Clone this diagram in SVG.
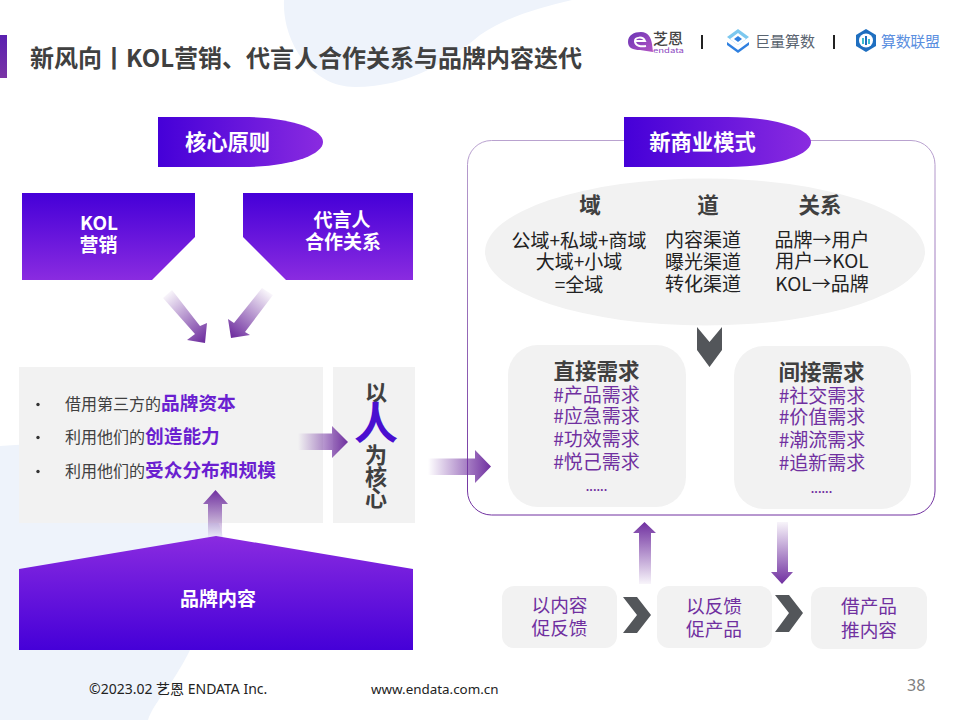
<svg xmlns="http://www.w3.org/2000/svg" width="960" height="720" viewBox="0 0 960 720">
<defs>
<linearGradient id="gH" x1="0" y1="0" x2="1" y2="0"><stop offset="0" stop-color="#4500d8"/><stop offset="1" stop-color="#8a2be0"/></linearGradient>
<linearGradient id="gV" x1="0" y1="0" x2="0" y2="1"><stop offset="0" stop-color="#4500d8"/><stop offset="1" stop-color="#8a2be0"/></linearGradient>
<linearGradient id="gU" x1="0" y1="1" x2="0" y2="0"><stop offset="0" stop-color="#4500d8"/><stop offset="1" stop-color="#8a2be0"/></linearGradient>
<linearGradient id="gBar" x1="0" y1="0" x2="0" y2="1"><stop offset="0" stop-color="#5a20b0"/><stop offset="1" stop-color="#7a35a5"/></linearGradient>
<linearGradient id="gFrame" x1="0" y1="0" x2="0" y2="1"><stop offset="0" stop-color="#b9a2cf"/><stop offset="1" stop-color="#7030a0"/></linearGradient>
<linearGradient id="aR" x1="0" y1="0" x2="1" y2="0"><stop offset="0" stop-color="#7030a0" stop-opacity="0"/><stop offset="1" stop-color="#7030a0"/></linearGradient>
<linearGradient id="aU" x1="0" y1="1" x2="0" y2="0"><stop offset="0" stop-color="#7030a0" stop-opacity="0.05"/><stop offset="1" stop-color="#7030a0"/></linearGradient>
<linearGradient id="aD" x1="0" y1="0" x2="0" y2="1"><stop offset="0" stop-color="#7030a0" stop-opacity="0.05"/><stop offset="1" stop-color="#7030a0"/></linearGradient>
<linearGradient id="aA" gradientUnits="userSpaceOnUse" x1="165" y1="292" x2="205" y2="340"><stop offset="0" stop-color="#7030a0" stop-opacity="0"/><stop offset="1" stop-color="#7030a0"/></linearGradient>
<linearGradient id="aB" gradientUnits="userSpaceOnUse" x1="270" y1="290" x2="232" y2="336"><stop offset="0" stop-color="#7030a0" stop-opacity="0"/><stop offset="1" stop-color="#7030a0"/></linearGradient>
<linearGradient id="gLogo" x1="0" y1="0" x2="1" y2="1"><stop offset="0" stop-color="#6a35b5"/><stop offset="1" stop-color="#b455c4"/></linearGradient>
</defs>
<style>
text{font-family:"Noto Sans CJK SC","Noto Sans",sans-serif}
.w{fill:#fff;font-weight:700;text-anchor:middle;font-size:19px}
.wl{fill:#fff;font-weight:700;text-anchor:middle;font-size:21.300px}
.g{fill:#f2f2f2}
.d{fill:#404040;font-weight:700;text-anchor:middle;font-size:21.500px}
.b{fill:#222;text-anchor:middle;font-size:19px}
.p{fill:#7030a0;text-anchor:middle;font-size:19px}
.pb{fill:#7030a0;text-anchor:middle;font-size:18.700px}
.t{fill:#404040;font-size:16px}
.e{fill:#6a1fd0;font-weight:700;font-size:18.700px}
.c{fill:#53565a}
.v{fill:#404040;font-weight:700;text-anchor:middle;font-size:22px}
.f{fill:#222;font-family:"Noto Sans","Noto Sans CJK SC",sans-serif}
.o{fill:#7030a0;text-anchor:middle;font-size:11px;font-weight:700}
</style>
<rect width="960" height="720" fill="#fff"/>
<g id="background">
<path d="M284 0C282 40 310 87 355 87C410 87 450 60 480 35C510 15 540 8 572 0Z" fill="#eef3fb"/>
<path d="M0 446C60 440 150 450 200 500C240 535 225 570 190 650C170 690 155 700 148 720H0Z" fill="#eef3fb"/>
</g>
<g id="title">
<rect x="0" y="35" width="7" height="43" fill="url(#gBar)"/>
<text x="30" y="67" font-size="24" font-weight="700" fill="#404040" textLength="552" lengthAdjust="spacingAndGlyphs">新风向丨KOL营销、代言人合作关系与品牌内容迭代</text>
</g>
<g id="logos">
<path d="M628 42C628 35 634 32 641 32C648 32 651 37 652 44L653 52L640 50C633 50 628 48 628 42Z" fill="url(#gLogo)"/>
<path d="M645 41H635C635 37 643 36 645 41ZM635 41C635 46 641 47 646 46" fill="none" stroke="#fff" stroke-width="2"/>
<text x="653" y="44" font-size="15" font-weight="500" fill="#444">芝恩</text>
<text x="653" y="52.500" font-size="7" fill="#8a45c0" textLength="31" lengthAdjust="spacingAndGlyphs">endata</text>
<rect x="701" y="35" width="2" height="14" fill="#222"/>
<path d="M738 29L749 37L738 45L727 37Z" fill="#7cc8ef"/>
<path d="M727 42L738 50L749 42L749 45L738 53L727 45Z" fill="#2f80e0"/>
<path d="M738 33L746 39L738 45L730 39Z" fill="#fff"/>
<path d="M738 36L742 39L738 42L734 39Z" fill="#2f80e0"/>
<text x="755" y="47" font-size="15" fill="#5a6470" textLength="60">巨量算数</text>
<rect x="833" y="35" width="2" height="14" fill="#222"/>
<path d="M866 29L876 35V46L866 52L856 46V35Z" fill="#1f6fc0"/>
<circle cx="866" cy="40.500" r="7" fill="#fff"/>
<rect x="862" y="38" width="2" height="6" fill="#3ac0d0"/><rect x="865" y="36" width="2" height="9" fill="#1f6fc0"/><rect x="868" y="39" width="2" height="5" fill="#3ac0d0"/>
<text x="881" y="47" font-size="15" fill="#5b8fe0" textLength="59">算数联盟</text>
</g>
<g id="node-core">
<path d="M158 117H242C290 117 323 129 323 142C323 155 290 167 242 167H158Z" fill="url(#gH)"/>
<text class="wl" x="227.500" y="150">核心原则</text>
</g>
<g id="node-kol">
<path d="M22 193H195V237L152 280H22Z" fill="url(#gV)"/>
<text class="w" x="99" y="230">KOL</text>
<text class="w" x="98.500" y="252">营销</text>
</g>
<g id="node-spokesperson">
<path d="M243 193H413V280H286L243 237Z" fill="url(#gV)"/>
<text class="w" x="342" y="227">代言人</text>
<text class="w" x="343" y="249">合作关系</text>
</g>
<g id="node-list">
<rect class="g" x="19" y="367" width="304" height="156"/>
<g fill="#333"><circle cx="38" cy="404.500" r="1.700"/><circle cx="38" cy="437.500" r="1.700"/><circle cx="38" cy="471.500" r="1.700"/></g>
<text class="t" x="65" y="410">借用第三方的<tspan class="e">品牌资本</tspan></text>
<text class="t" x="65" y="443">利用他们的<tspan class="e">创造能力</tspan></text>
<text class="t" x="65" y="477">利用他们的<tspan class="e">受众分布和规模</tspan></text>
</g>
<g id="node-people">
<rect class="g" x="333" y="367" width="82" height="156"/>
<text class="v" x="376" y="400">以</text>
<text x="376" y="439" font-size="44" font-weight="700" fill="#4a0fd0" text-anchor="middle">人</text>
<text class="v" x="376" y="463">为</text>
<text class="v" x="376" y="485">核</text>
<text class="v" x="376" y="506">心</text>
</g>
<g id="node-brand">
<path d="M19 569L216 536L413 569V650H19Z" fill="url(#gU)"/>
<text class="w" x="218" y="606">品牌内容</text>
</g>
<g id="node-model">
<rect x="467.500" y="140.500" width="467.500" height="374.500" rx="24" fill="none" stroke="url(#gFrame)" stroke-width="1"/>
<path d="M624 117H728C776 117 811 129 811 142C811 155 776 167 728 167H624Z" fill="url(#gH)"/>
<text class="wl" x="702.500" y="150">新商业模式</text>
<ellipse class="g" cx="705" cy="252" rx="220" ry="73.500"/>
<text class="d" x="590" y="213">域</text>
<text class="d" x="708" y="213">道</text>
<text class="d" x="820" y="213">关系</text>
<text class="b" x="579" y="248">公域+私域+商域</text>
<text class="b" x="579" y="269">大域+小域</text>
<text class="b" x="579" y="292">=全域</text>
<text class="b" x="703" y="247">内容渠道</text>
<text class="b" x="703" y="269">曝光渠道</text>
<text class="b" x="703" y="291">转化渠道</text>
<text class="b" x="822" y="247">品牌→用户</text>
<text class="b" x="822" y="268">用户→KOL</text>
<text class="b" x="822" y="291">KOL→品牌</text>
</g>
<g id="node-direct">
<rect class="g" x="508" y="345" width="178" height="162" rx="30"/>
<text class="d" x="596.500" y="379">直接需求</text>
<text class="p" x="596.500" y="402">#产品需求</text>
<text class="p" x="596.500" y="423">#应急需求</text>
<text class="p" x="596.500" y="446">#功效需求</text>
<text class="p" x="596.500" y="469">#悦己需求</text>
<text class="o" x="596.500" y="491">......</text>
</g>
<g id="node-indirect">
<rect class="g" x="734" y="346" width="177" height="163" rx="30"/>
<text class="d" x="821.500" y="380">间接需求</text>
<text class="p" x="822" y="403">#社交需求</text>
<text class="p" x="822" y="424">#价值需求</text>
<text class="p" x="822" y="447">#潮流需求</text>
<text class="p" x="822" y="470">#追新需求</text>
<text class="o" x="821.500" y="493">......</text>
</g>
<g id="node-step1">
<rect class="g" x="502" y="586" width="115" height="62" rx="12"/>
<text class="pb" x="559.500" y="612">以内容</text>
<text class="pb" x="559.500" y="635">促反馈</text>
</g>
<g id="node-step2">
<rect class="g" x="657" y="586" width="115" height="62" rx="12"/>
<text class="pb" x="714" y="613">以反馈</text>
<text class="pb" x="714" y="636">促产品</text>
</g>
<g id="node-step3">
<rect class="g" x="811" y="587" width="116" height="62" rx="12"/>
<text class="pb" x="869" y="613">借产品</text>
<text class="pb" x="869" y="637">推内容</text>
</g>
<g id="connectors">
<path d="M163 298L172 290L200 326L207 323L205 343L187 340L195 334Z" fill="url(#aA)"/>
<path d="M262 288L273 295L245 332L250 335L231 338L228 319L234 323Z" fill="url(#aB)"/>
<path d="M298 433.500H332V426L348 442L332 458V450H298Z" fill="url(#aR)"/>
<path d="M428 458.500H475V450L491 466.500L475 483V475H428Z" fill="url(#aR)"/>
<path d="M208 537V504H203L215.500 490L228 504H222V537Z" fill="url(#aU)"/>
<path d="M639 584V533H633L644.500 522L656 533H651V584Z" fill="url(#aU)"/>
<path d="M777 522H788V572H793L782 584L771 572H777Z" fill="url(#aD)"/>
<path class="c" d="M697 327L709.500 342L722 327V350L709.500 367L697 350Z"/>
<path class="c" d="M623 597H637L651 615L637 633H623L637 615Z"/>
<path class="c" d="M775 595H789L803 613L789 632H775L789 613Z"/>
</g>
<g id="footer">
<text class="f" x="89" y="694" font-size="14">©2023.02 艺恩 ENDATA Inc.</text>
<text class="f" x="371" y="694" font-size="13.400">www.endata.com.cn</text>
<text x="907" y="691" font-size="16" fill="#7f7f7f" style="font-family:'Noto Sans',sans-serif">38</text>
</g>
</svg>
